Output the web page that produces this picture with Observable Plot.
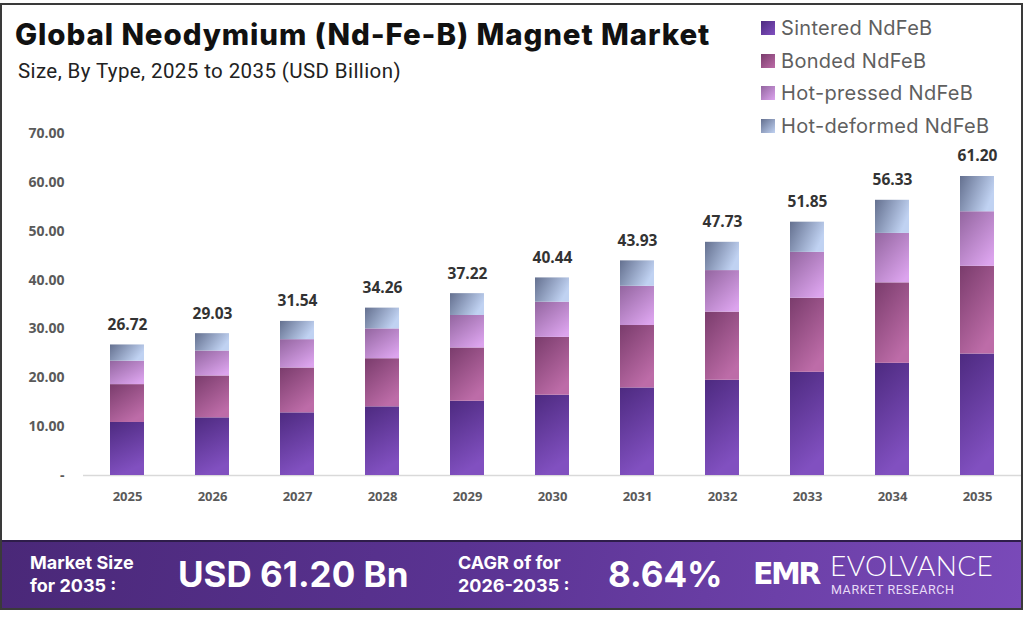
<!DOCTYPE html>
<html>
<head>
<meta charset="utf-8">
<script src="https://cdn.jsdelivr.net/npm/d3@7"></script>
<script src="https://cdn.jsdelivr.net/npm/@observablehq/plot@0.6"></script>
<style>
  html, body { margin: 0; padding: 0; background: #fff; }
  #wrap { position: relative; width: 1024px; height: 617px; overflow: hidden; background: #fff; font-family: Inter, "Noto Sans", sans-serif; }
  #frame { position: absolute; left: 0; top: 3px; width: 1019px; height: 603px; border: 2px solid #3a3a3a; }
  #title { position: absolute; left: 15px; top: 16px; font-size: 29.5px; font-weight: 800; color: #111; letter-spacing: 0.9px; white-space: nowrap; }
  #subtitle { position: absolute; left: 18px; top: 59px; font-family: Roboto, sans-serif; font-size: 20.5px; letter-spacing: 0.4px; color: #222; white-space: nowrap; }
  #legend { position: absolute; left: 761px; top: 14px; }
  .li { position: absolute; left: 0; height: 28px; display: flex; align-items: center; white-space: nowrap; font-size: 20px; letter-spacing: 0.3px; color: #5f5f5f; }
  .sw { width: 14px; height: 14px; margin-right: 6px; }
  #chart { position: absolute; left: 0; top: 100px; }
  #footer { position: absolute; left: 2px; top: 540px; width: 1020px; height: 66px; border-top: 2px solid #2e1d4a;
    background: linear-gradient(100deg, #4a2878 0%, #5a3392 45%, #7a4ab9 100%); color: #fff; }
  .f { position: absolute; font-weight: 700; white-space: nowrap; }
  .small { font-size: 18px; line-height: 23px; }
  .big { font-size: 35px; }
</style>
</head>
<body>
<div id="wrap">
  <div id="title">Global Neodymium (Nd-Fe-B) Magnet Market</div>
  <div id="subtitle">Size, By Type, 2025 to 2035 (USD Billion)</div>
  <div id="legend"></div>
  <div id="chart"></div>
  <div id="footer">
    <div class="f small" style="left:28px; top:9px;">Market Size<br>for 2035 :</div>
    <div class="f big" style="left:176px; top:11px;">USD 61.20 Bn</div>
    <div class="f small" style="left:456px; top:9px;">CAGR of for<br>2026-2035 :</div>
    <div class="f big" style="left:606px; top:11px;">8.64%</div>
    <div class="f" style="left:751px; top:14px; font-size:30px; font-weight:800; letter-spacing:-2.5px; font-family:'DejaVu Sans', sans-serif;">EMR</div>
    <div class="f" style="left:828px; top:6px; font-size:28px; font-weight:300; letter-spacing:0.4px; font-family:Lato, sans-serif;">EVOLVANCE</div>
    <div class="f" style="left:829px; top:40px; font-size:12.5px; font-weight:400; letter-spacing:0.6px; font-family:Roboto, sans-serif; color:#e8dcf6;">MARKET RESEARCH</div>
  </div>
  <div id="frame"></div>
</div>
<script>
// ---- data ----
const years = ["2025","2026","2027","2028","2029","2030","2031","2032","2033","2034","2035"];
const types = ["Sintered NdFeB","Bonded NdFeB","Hot-pressed NdFeB","Hot-deformed NdFeB"];
const sintered    = [10.85, 11.80, 12.82, 14.05, 15.20, 16.43, 17.92, 19.49, 21.12, 22.96, 24.86];
const bonded      = [ 7.75,  8.57,  9.18,  9.85, 10.90, 11.84, 12.78, 13.94, 15.16, 16.47, 17.96];
const hotPressed  = [ 4.80,  5.10,  5.80,  6.10,  6.65,  7.20,  8.03,  8.51,  9.39, 10.12, 11.16];
const hotDeformed = [ 3.32,  3.56,  3.74,  4.26,  4.47,  4.97,  5.20,  5.79,  6.18,  6.78,  7.22];
const totals      = [26.72, 29.03, 31.54, 34.26, 37.22, 40.44, 43.93, 47.73, 51.85, 56.33, 61.20];
const yTicks = [0, 10, 20, 30, 40, 50, 60, 70];

// gradient stops per type: [start, end, x2, y2]
const grads = [
  ["#4d2a80", "#8150c0", 0.3, 1],
  ["#7a3c6c", "#bd6ca8", 0.6, 1],
  ["#93659f", "#dca4ee", 0.8, 1],
  ["#64708f", "#c0d2f2", 1, 0.4]
];

const series = [sintered, bonded, hotPressed, hotDeformed];
const long = [];
years.forEach((yr, i) => types.forEach((t, k) => long.push({year: yr, type: t, value: series[k][i]})));
const labels = years.map((yr, i) => ({year: yr, total: totals[i]}));

// legend
const legend = document.getElementById("legend");
types.forEach((t, k) => {
  const g = grads[k];
  const d = document.createElement("div");
  d.className = "li";
  d.style.top = (k * 32.5) + "px";
  d.innerHTML = `<div class="sw" style="background:linear-gradient(135deg, ${g[0]}, ${g[1]})"></div><span>${t}</span>`;
  legend.appendChild(d);
});

const defs = () => {
  const s = d3.create("svg:defs");
  grads.forEach((g, k) => {
    const lg = s.append("linearGradient").attr("id", "grad" + k)
      .attr("x1", 0).attr("y1", 0).attr("x2", g[2]).attr("y2", g[3]);
    lg.append("stop").attr("offset", "0%").attr("stop-color", g[0]);
    lg.append("stop").attr("offset", "100%").attr("stop-color", g[1]);
  });
  return s.node();
};

const chart = Plot.plot({
  width: 1024,
  height: 420,
  marginTop: 33,
  marginBottom: 45,
  marginLeft: 83,
  marginRight: 3,
  style: {fontFamily: "'Open Sans', sans-serif", fontSize: "13px", fontWeight: "700", color: "#5a5a5a", background: "transparent"},
  x: {domain: years, paddingInner: 0.6, paddingOuter: 0.3, label: null, tickSize: 0, tickPadding: 16},
  y: {domain: [0, 70], ticks: yTicks, tickFormat: d => d === 0 ? "-" : d.toFixed(2), label: null, tickSize: 0, tickPadding: 19},
  color: {type: "ordinal", domain: types, range: types.map((t, k) => `url(#grad${k})`)},
  marks: [
    defs,
    Plot.ruleY([0], {stroke: "#d9d9d9", strokeWidth: 1.5}),
    Plot.axisY({ticks: yTicks, tickFormat: d => d === 0 ? "-" : d.toFixed(2), tickSize: 0, tickPadding: 19, fontSize: 14, label: null}),
    Plot.axisX({tickSize: 0, tickPadding: 16, fontSize: 13, label: null}),
    Plot.barY(long, {x: "year", y: "value", fill: "type", order: null}),
    Plot.text(labels, {x: "year", y: "total", text: d => d.total.toFixed(2), dy: -20, fill: "#333", fontSize: 15.5, fontWeight: 700})
  ]
});
document.getElementById("chart").appendChild(chart);
</script>
</body>
</html>
